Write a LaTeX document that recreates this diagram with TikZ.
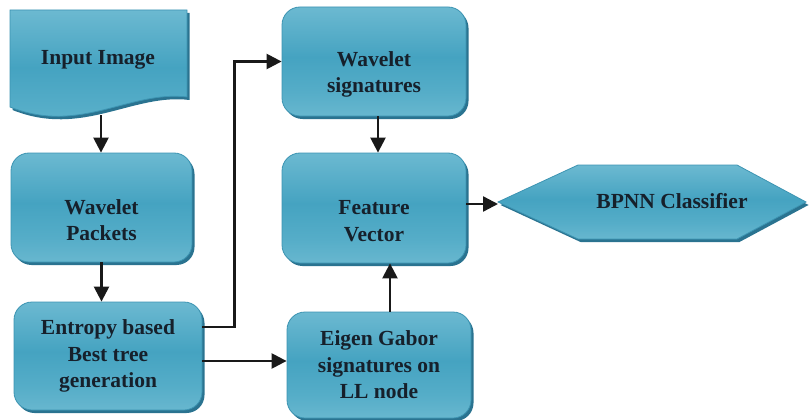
\documentclass[tikz,border=0pt]{standalone}
\usepackage{fontspec}
\setmainfont{Liberation Serif}
\usetikzlibrary{arrows.meta,shadows,calc}
\definecolor{topc}{HTML}{96D1E2}
\definecolor{midc}{HTML}{45A3C1}
\definecolor{mid2}{HTML}{55ADC8}
\definecolor{botc}{HTML}{92CDDE}
\definecolor{edgec}{HTML}{3C94B2}
\definecolor{shadowc}{HTML}{2A7390}
\definecolor{textc}{HTML}{16202B}
\pgfdeclareverticalshading{boxshade}{100bp}{color(0bp)=(botc); color(36bp)=(mid2); color(52bp)=(midc); color(100bp)=(topc)}
\tikzset{
  lbl/.style={font=\fontsize{21.5}{26.5}\selectfont\bfseries, text=textc, align=center},
  box/.style={lbl, rounded corners=18pt, shading=boxshade, draw=edgec, line width=0.8pt,
    inner sep=0pt, general shadow={fill=shadowc, shadow xshift=2.5pt, shadow yshift=-3pt}},
  manual/.style={shading=boxshade, draw=edgec, line width=0.8pt},
  mshadow/.style={fill=shadowc, xshift=2.5pt, yshift=-3pt},
  arr/.style={draw=black!90, line width=2.4pt, -{Triangle[length=15pt,width=15pt]}},
}
\begin{document}
\begin{tikzpicture}[x=1pt,y=-1pt]
\useasboundingbox (0,0) rectangle (809,420);
% Input Image (document shape)
\def\docpath{(10,10) -- (187,10) -- (187,97) .. controls (130,90) and (80,135) .. (10,107) -- cycle}
\fill[mshadow] \docpath;
\path[manual] \docpath;
\node[lbl] (input) at (98,60) {Input Image};
\coordinate (inbot) at (101,115);
% boxes
\node[box, minimum width=181pt, minimum height=109pt] (wp) at (101.5,207.5) {\mbox{}\\[14pt]Wavelet\\Packets};
\node[box, minimum width=188pt, minimum height=108pt] (ent) at (108,356) {Entropy based\\Best tree\\generation};
\node[box, minimum width=184pt, minimum height=109pt] (ws) at (374,61.5) {\mbox{}\\[14pt]Wavelet\\signatures};
\node[box, minimum width=184pt, minimum height=110pt] (fv) at (374,208) {\mbox{}\\[14pt]Feature\\Vector};
\node[box, minimum width=184pt, minimum height=106pt] (eg) at (379,365) {Eigen Gabor\\signatures on\\LL node};
% BPNN hexagon
\def\hexpath{(498,202) -- (578,165) -- (737,165) -- (806,202) -- (737,239) -- (578,239) -- cycle}
\fill[mshadow] \hexpath;
\path[manual] \hexpath;
\node[lbl] (bpnn) at (672,201) {BPNN Classifier};
\coordinate (bL) at (498,204);
% connectors
\draw[arr] (inbot) -- (inbot |- wp.north);
\draw[arr] (wp.south) -- (wp.south |- ent.north);
\coordinate (e1) at ([yshift=29pt]ent.east);
\coordinate (e2) at ([yshift=-5pt]ent.east);
\draw[arr] (e1) -- ++(32,0) |- (ws.west);
\draw[arr] (e2) -- (e2 -| eg.west);
\coordinate (w1) at ([xshift=4pt]ws.south);
\draw[arr] (w1) -- (w1 |- fv.north);
\coordinate (g1) at ([xshift=11pt]eg.north);
\draw[arr] (g1) -- (g1 |- fv.south);
\draw[arr] (fv.east |- bL) -- (bL);
\end{tikzpicture}
\end{document}
